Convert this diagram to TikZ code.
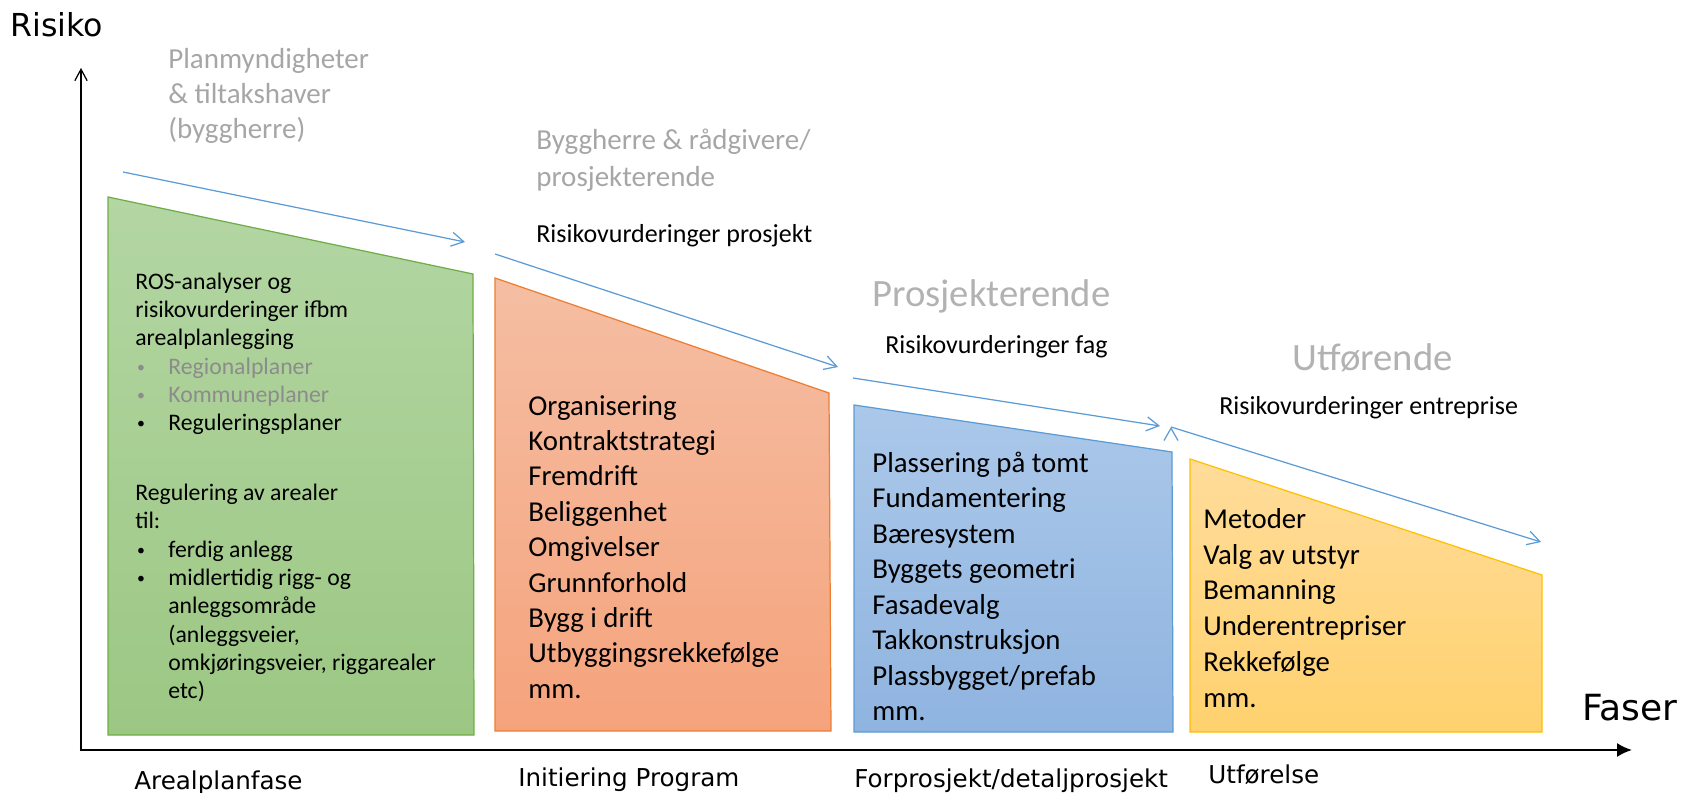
\documentclass[tikz,border=0pt]{standalone}
\usepackage{fontspec}
\setmainfont{Carlito}
\newfontfamily\axisfont{DejaVu Sans}
\usetikzlibrary{arrows.meta}
\definecolor{arrowblue}{HTML}{5B9BD5}
\definecolor{headgray}{HTML}{A6A6A6}
\definecolor{lightgray}{HTML}{B2B2B2}
\definecolor{listgray}{HTML}{8C8C8C}
\definecolor{greenedge}{HTML}{70AD47}
\definecolor{greentop}{HTML}{B3D6A3}
\definecolor{greenbot}{HTML}{9CC783}
\definecolor{orangeedge}{HTML}{ED7D31}
\definecolor{orangetop}{HTML}{F5BEA3}
\definecolor{orangebot}{HTML}{F5A37C}
\definecolor{blueedge}{HTML}{5B9BD5}
\definecolor{bluetop}{HTML}{ABC8E9}
\definecolor{bluebot}{HTML}{8FB4E0}
\definecolor{yellowedge}{HTML}{FFC000}
\definecolor{yellowtop}{HTML}{FFDC9A}
\definecolor{yellowbot}{HTML}{FFD16E}
\newcommand{\bul}[1]{\makebox[18.8pt][l]{\hspace{1pt}\raisebox{1.2pt}{\fontsize{9pt}{9pt}\selectfont\textbullet}}#1}
\newcommand{\listind}{\hspace*{18.8pt}}

\begin{document}
\begin{tikzpicture}[x=0.02cm,y=-0.02cm,
  >={Straight Barb[length=7pt,width=8pt]},
  risk arrow/.style={->,draw=arrowblue,line width=0.7pt},
  phase box/.style={line width=0.7pt},
  list node/.style={anchor=base west,align=left,inner sep=0pt},
  head node/.style={anchor=base west,align=left,inner sep=0pt,text=headgray},
  label node/.style={anchor=base west,inner sep=0pt,
    font=\fontsize{14.8pt}{17pt}\selectfont},
  axis label/.style={anchor=base west,inner sep=0pt,
    font=\axisfont\fontsize{14pt}{17pt}\selectfont}]

  \useasboundingbox (0,0) rectangle (1694,793);

  % phase boxes
  \path[phase box,draw=greenedge,top color=greentop,bottom color=greenbot]
    (108,197) -- (473,274) -- (474,735) -- (108,735) -- cycle;
  \path[phase box,draw=orangeedge,top color=orangetop,bottom color=orangebot]
    (495,278) -- (829,393) -- (831,731) -- (495,731) -- cycle;
  \path[phase box,draw=blueedge,top color=bluetop,bottom color=bluebot]
    (854,405) -- (1172,452) -- (1173,732) -- (854,732) -- cycle;
  \path[phase box,draw=yellowedge,top color=yellowtop,bottom color=yellowbot]
    (1190,459) -- (1542,575) -- (1542,732) -- (1190,732) -- cycle;

  % axes
  \coordinate (o) at (81,750);
  \coordinate (ytop) at (81,68);
  \coordinate (xend) at (1632,750);
  \draw[->,>={Straight Barb[length=6.5pt,width=7pt]},line width=0.7pt] (o) -- (ytop);
  \draw[-{Latex[length=8.5pt,width=8pt]},line width=1.2pt] (79.5,750) -- (xend);

  \node[axis label,font=\axisfont\fontsize{18pt}{20pt}\selectfont] (401) at (10,37) {Risiko};
  \node[axis label,font=\axisfont\fontsize{20.5pt}{22pt}\selectfont] (402) at (1582,720) {Faser};
  \node[axis label] (411) at (134,789) {Arealplanfase};
  \node[axis label] (412) at (518,786.7) {Initiering Program};
  \node[axis label] (413) at (854,787) {Forprosjekt/detaljprosjekt};
  \node[axis label] (414) at (1208,783) {Utførelse};

  % risk arrows
  \coordinate (a1) at (123,172);  \coordinate (b1) at (465,242);
  \coordinate (a2) at (495,254);  \coordinate (b2) at (838,367);
  \coordinate (a3) at (853,378);  \coordinate (b3) at (1160,426);
  \coordinate (a4) at (1171,427); \coordinate (b4) at (1541,542);
  \path[risk arrow]
    (a1) edge (b1)
    (a2) edge (b2)
    (a3) edge (b3)
    (a4) edge (b4);

  % actors (multi-line nodes sit on their last baseline)
  \node[head node,font=\fontsize{16.5pt}{19.9pt}\selectfont] (101) at (168,138.2)
    {Planmyndigheter\\\& tiltakshaver\\(byggherre)};
  \node[head node,font=\fontsize{16.5pt}{21pt}\selectfont] (102) at (536,186.9)
    {Byggherre \& rådgivere/\\prosjekterende};
  \node[head node,text=lightgray,font=\fontsize{22pt}{24pt}\selectfont] (103) at (872,306.7)
    {Prosjekterende};
  \node[head node,text=lightgray,font=\fontsize{22pt}{24pt}\selectfont] (104) at (1292,370.7)
    {Utførende};

  \node[label node] (202) at (536,242.7) {Risikovurderinger prosjekt};
  \node[label node] (203) at (885,354) {Risikovurderinger fag};
  \node[label node] (204) at (1219,415) {Risikovurderinger entreprise};

  % contents
  \node[list node,font=\fontsize{13.5pt}{16.1pt}\selectfont] (301) at (135,698.7)
    {ROS-analyser og\\
     risikovurderinger ifbm\\
     arealplanlegging\\
     {\color{listgray}\bul{Regionalplaner}}\\
     {\color{listgray}\bul{Kommuneplaner}}\\
     \bul{Reguleringsplaner}\\[23.7pt]
     Regulering av arealer\\
     til:\\
     \bul{ferdig anlegg}\\
     \bul{midlertidig rigg- og}\\
     \listind anleggsområde\\
     \listind (anleggsveier,\\
     \listind omkjøringsveier, riggarealer\\
     \listind etc)};
  \node[list node,font=\fontsize{16.4pt}{20.15pt}\selectfont] (302) at (528,698.3)
    {Organisering\\Kontraktstrategi\\Fremdrift\\Beliggenhet\\Omgivelser\\
     Grunnforhold\\Bygg i drift\\Utbyggingsrekkefølge\\mm.};
  \node[list node,font=\fontsize{16.4pt}{20.2pt}\selectfont] (303) at (872,720.8)
    {Plassering på tomt\\Fundamentering\\Bæresystem\\Byggets geometri\\
     Fasadevalg\\Takkonstruksjon\\Plassbygget/prefab\\mm.};
  \node[list node,font=\fontsize{16.4pt}{20.4pt}\selectfont] (304) at (1203,707.5)
    {Metoder\\Valg av utstyr\\Bemanning\\Underentrepriser\\Rekkefølge\\mm.};

\end{tikzpicture}
\end{document}
